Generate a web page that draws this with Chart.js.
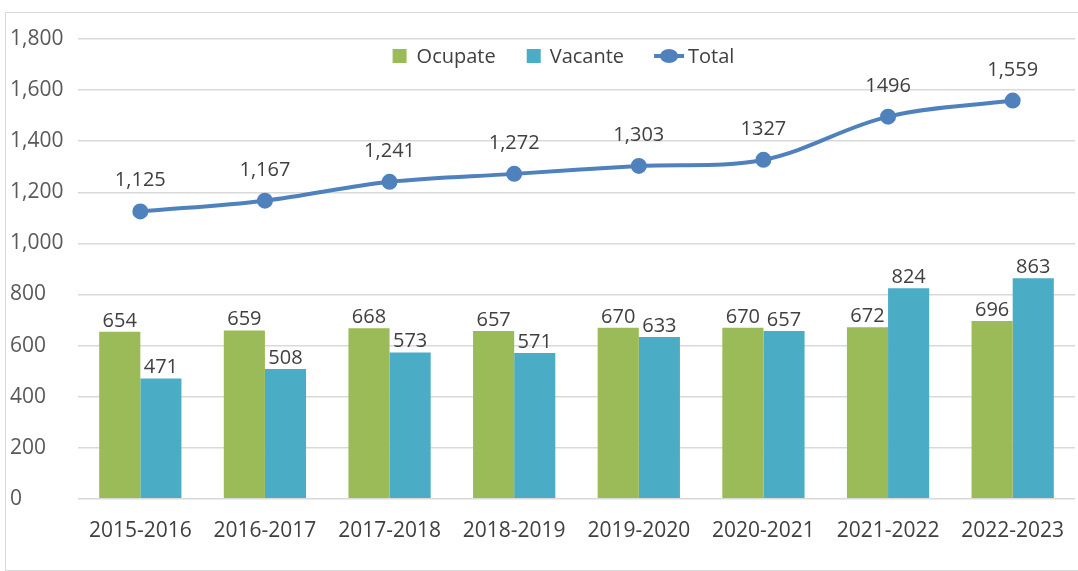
<!DOCTYPE html>
<html>
<head>
<meta charset="utf-8">
<script src="https://cdn.jsdelivr.net/npm/chart.js@4"></script>
<style>
	html, body { margin: 0; padding: 0; background: #fff; overflow: hidden; }
	.wrap {
		position: absolute;
		left: 5px;
		top: 12px;
		width: 1079px;
		height: 557px;
		border: 1px solid #d9d9d9;
		border-right: none;
	}
</style>
</head>
<body>
<div class="wrap"><canvas id="chart"></canvas></div>
<script>
const labels = ['2015-2016', '2016-2017', '2017-2018', '2018-2019', '2019-2020', '2020-2021', '2021-2022', '2022-2023'];
const ocupate = [654, 659, 668, 657, 670, 670, 672, 696];
const vacante = [471, 508, 573, 571, 633, 657, 824, 863];
const total = [1125, 1167, 1241, 1272, 1303, 1327, 1496, 1559];
// labels on the line, written as they appear
const totalLabels = ['1,125', '1,167', '1,241', '1,272', '1,303', '1327', '1496', '1,559'];

const font = "'Open Sans', sans-serif";
const GREEN = '#9bbb59';
const BLUE = '#4bacc6';
const LINE = '#4f81bd';

// draws the numbers above bars and points
const valueLabels = {
	id: 'valueLabels',
	afterDatasetsDraw(chart) {
		const ctx = chart.ctx;
		ctx.save();
		ctx.font = '20px ' + font;
		ctx.fillStyle = '#404040';
		ctx.textAlign = 'center';
		ctx.textBaseline = 'alphabetic';
		chart.data.datasets.forEach((ds, i) => {
			const meta = chart.getDatasetMeta(i);
			meta.data.forEach((el, j) => {
				if (ds.type === 'line') {
					ctx.fillText(totalLabels[j], el.x, el.y - 25);
				} else {
					ctx.fillText(ds.data[j], el.x, el.y - 5);
				}
			});
		});
		ctx.restore();
	}
};

// legend drawn inside the plot, in one row like the original
const rowLegend = {
	id: 'rowLegend',
	afterDraw(chart) {
		const ctx = chart.ctx;
		const area = chart.chartArea;
		ctx.save();
		ctx.font = '20px ' + font;
		ctx.textBaseline = 'middle';
		ctx.textAlign = 'left';
		const items = [
			{ text: 'Ocupate', color: GREEN, kind: 'box', w: 14, gap: 10, after: 31 },
			{ text: 'Vacante', color: BLUE, kind: 'box', w: 14, gap: 9, after: 30 },
			{ text: 'Total', color: LINE, kind: 'line', w: 30, gap: 4, after: 0 },
		];
		let width = 0;
		items.forEach(it => {
			it.tw = ctx.measureText(it.text).width;
			width += it.w + it.gap + it.tw + it.after;
		});
		let x = (area.left + area.right) / 2 - 13 - width / 2;
		const y = area.top + 17;
		items.forEach(it => {
			ctx.fillStyle = it.color;
			ctx.strokeStyle = it.color;
			if (it.kind === 'box') {
				ctx.fillRect(x, y - 7, 14, 14);
			} else {
				ctx.lineWidth = 4;
				ctx.beginPath();
				ctx.moveTo(x, y);
				ctx.lineTo(x + it.w, y);
				ctx.stroke();
				ctx.beginPath();
				ctx.ellipse(x + it.w / 2, y, 9, 7, 0, 0, Math.PI * 2);
				ctx.fill();
			}
			x += it.w + it.gap;
			ctx.fillStyle = '#404040';
			ctx.fillText(it.text, x, y + 1);
			x += it.tw + it.after;
		});
		ctx.restore();
	}
};

const config_chart = {
	data: {
		labels: labels,
		datasets: [
			{
				type: 'line',
				label: 'Total',
				data: total,
				borderColor: LINE,
				backgroundColor: LINE,
				borderWidth: 4,
				pointRadius: 6,
				tension: 0.35,
				order: 0,
			},
			{
				type: 'bar',
				label: 'Ocupate',
				data: ocupate,
				backgroundColor: GREEN,
				borderWidth: 0,
				categoryPercentage: 0.66,
				barPercentage: 1,
				order: 1,
			},
			{
				type: 'bar',
				label: 'Vacante',
				data: vacante,
				backgroundColor: BLUE,
				borderWidth: 0,
				categoryPercentage: 0.66,
				barPercentage: 1,
				order: 1,
			},
		]
	},
	options: {
		responsive: true,
		maintainAspectRatio: false,
		animation: false,
		layout: {
			padding: { left: 4, right: 0, top: 26, bottom: 14 }
		},
		plugins: {
			legend: { display: false },
			tooltip: { enabled: false },
			title: { display: false }
		},
		scales: {
			x: {
				grid: { display: false },
				border: { display: false },
				ticks: {
					color: '#404040',
					padding: 12,
					font: { family: font, size: 21 }
				}
			},
			y: {
				min: 0,
				max: 1800,
				afterFit: scale => { scale.width = 68; },
				grid: {
					color: '#d9d9d9',
					lineWidth: 1.5,
					drawTicks: false
				},
				border: { display: false },
				ticks: {
					stepSize: 200,
					crossAlign: 'far',
					padding: 2,
					color: '#595959',
					font: { family: font, size: 21 },
					callback: v => v.toLocaleString('en-US')
				}
			}
		}
	},
	plugins: [valueLabels, rowLegend]
};

const chart = new Chart(document.getElementById('chart'), config_chart);
</script>
</body>
</html>
